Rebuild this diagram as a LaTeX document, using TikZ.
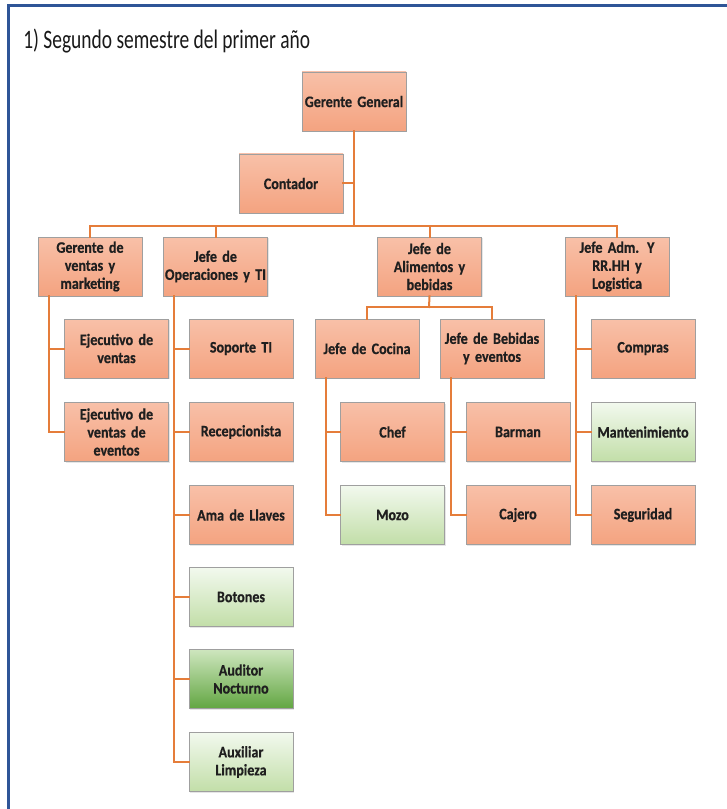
\documentclass[tikz,border=0pt]{standalone}
\usepackage{fontspec}
\setmainfont{Carlito}
\newfontfamily\titfont[FakeStretch=0.73]{Carlito}
\newfontfamily\cajafont[FakeStretch=0.88, BoldFeatures={FakeBold=0.6}]{Carlito}
\usetikzlibrary{positioning, shadows}

\definecolor{marcoAzul}{RGB}{47,85,151}
\definecolor{naranjaA}{RGB}{248,192,168}
\definecolor{naranjaB}{RGB}{244,163,128}
\definecolor{verdeA}{RGB}{242,249,238}
\definecolor{verdeB}{RGB}{194,222,168}
\definecolor{verdeC}{RGB}{206,230,190}
\definecolor{verdeD}{RGB}{98,166,66}
\definecolor{lineaNar}{RGB}{229,125,58}

\begin{document}
\begin{tikzpicture}[x=0.75pt, y=-0.75pt, line cap=rect, line join=miter]

% --------- estilos ----------
\tikzset{
  cargo/.style={draw=gray!75, top color=naranjaA, bottom color=naranjaB,
    font=\cajafont\bfseries\fontsize{12}{13.5}\selectfont, text=black!88, align=center,
    text width=76pt, minimum width=78pt, minimum height=44.25pt, inner sep=1pt,
    drop shadow={opacity=0.2, shadow xshift=0.8pt, shadow yshift=-0.8pt}},
  verde/.style={cargo, top color=verdeA, bottom color=verdeB},
  verdeosc/.style={cargo, top color=verdeC, bottom color=verdeD},
  linea/.style={draw=lineaNar, line width=1.5pt},
  titulo/.style={font=\titfont\fontsize{20}{24}\selectfont, text=black!90, inner sep=0pt}
}
\def\fA{266.5}   % fila de jefes
\def\fB{348.5}   % primera fila de subordinados
\def\fC{432}     % segunda fila
\def\fD{515}     % tercera fila

\useasboundingbox (0,0) rectangle (726,809);

% marco
\draw[marcoAzul, line width=2.25pt] (8,809) -- (8,6) -- (726,6);

% titulo
\node[titulo, anchor=base west] (tit) at (23,49) {1) Segundo semestre del primer año};

% ===================== nivel superior =====================
\node[cargo] (gg)   at (354,101.5) {Gerente General};
\node[cargo] (cont) at (291,183.5) {Contador};
\coordinate (bus) at (354,226);

% ===================== jefes =====================
\node[cargo] (gv)  at (90,\fA)    {Gerente de\\ventas y\\marketing};
\node[cargo] (jo)  at (215.5,\fA) {Jefe de\\Operaciones y TI};
\node[cargo] (ja)  at (429.5,\fA) {Jefe de\\Alimentos y\\bebidas};
\node[cargo] (jad) at (617,\fA)   {Jefe Adm. Y\\RR.HH y\\Logistica};

% ventas
\node[cargo] (ev1) at (116.5,\fB) {Ejecutivo de\\ventas};
\node[cargo] (ev2) at (116.5,\fC) {Ejecutivo de\\ventas de\\eventos};

% operaciones
\node[cargo]    (sop) at (241,\fB) {Soporte TI};
\node[cargo]    (rec) at (241,\fC) {Recepcionista};
\node[cargo]    (ama) at (241,\fD) {Ama de Llaves};
\node[verde]    (bot) at (241,597) {Botones};
\node[verdeosc] (aud) at (241,679) {Auditor\\Nocturno};
\node[verde]    (aux) at (241,762) {Auxiliar\\Limpieza};

% alimentos y bebidas
\node[cargo] (jc)  at (367,\fB)   {Jefe de Cocina};
\node[cargo] (jb)  at (492,\fB)   {Jefe de Bebidas\\y eventos};
\node[cargo] (chef) at (392.5,\fC) {Chef};
\node[verde] (mozo) at (392.5,\fD) {Mozo};
\node[cargo] (bar) at (518,\fC)   {Barman};
\node[cargo] (caj) at (518,\fD)   {Cajero};
\coordinate (subbus) at (429,307);

% administracion
\node[cargo] (comp) at (643,\fB) {Compras};
\node[verde] (mant) at (643,\fC) {Mantenimiento};
\node[cargo] (seg)  at (643,\fD) {Seguridad};

% ===================== conectores =====================
\draw[linea] (gg.south) -- (bus);
\draw[linea] (cont.east) -- (cont.east -| gg.south);
\foreach \j in {gv, jo, ja, jad}
  \draw[linea] (\j.north) |- (bus);

\draw[linea] (ja.south) -- (subbus);
\draw[linea] (jc.north) |- (subbus);
\draw[linea] (jb.north) |- (subbus);

% barras laterales
\foreach \j/\h in {gv/ev1, gv/ev2, jo/sop, jo/rec, jo/ama, jo/bot, jo/aud, jo/aux,
                   jc/chef, jc/mozo, jb/bar, jb/caj, jad/comp, jad/mant, jad/seg}
  \draw[linea] ([xshift=11*0.75pt]\j.south west) |- (\h.west);

\end{tikzpicture}
\end{document}
